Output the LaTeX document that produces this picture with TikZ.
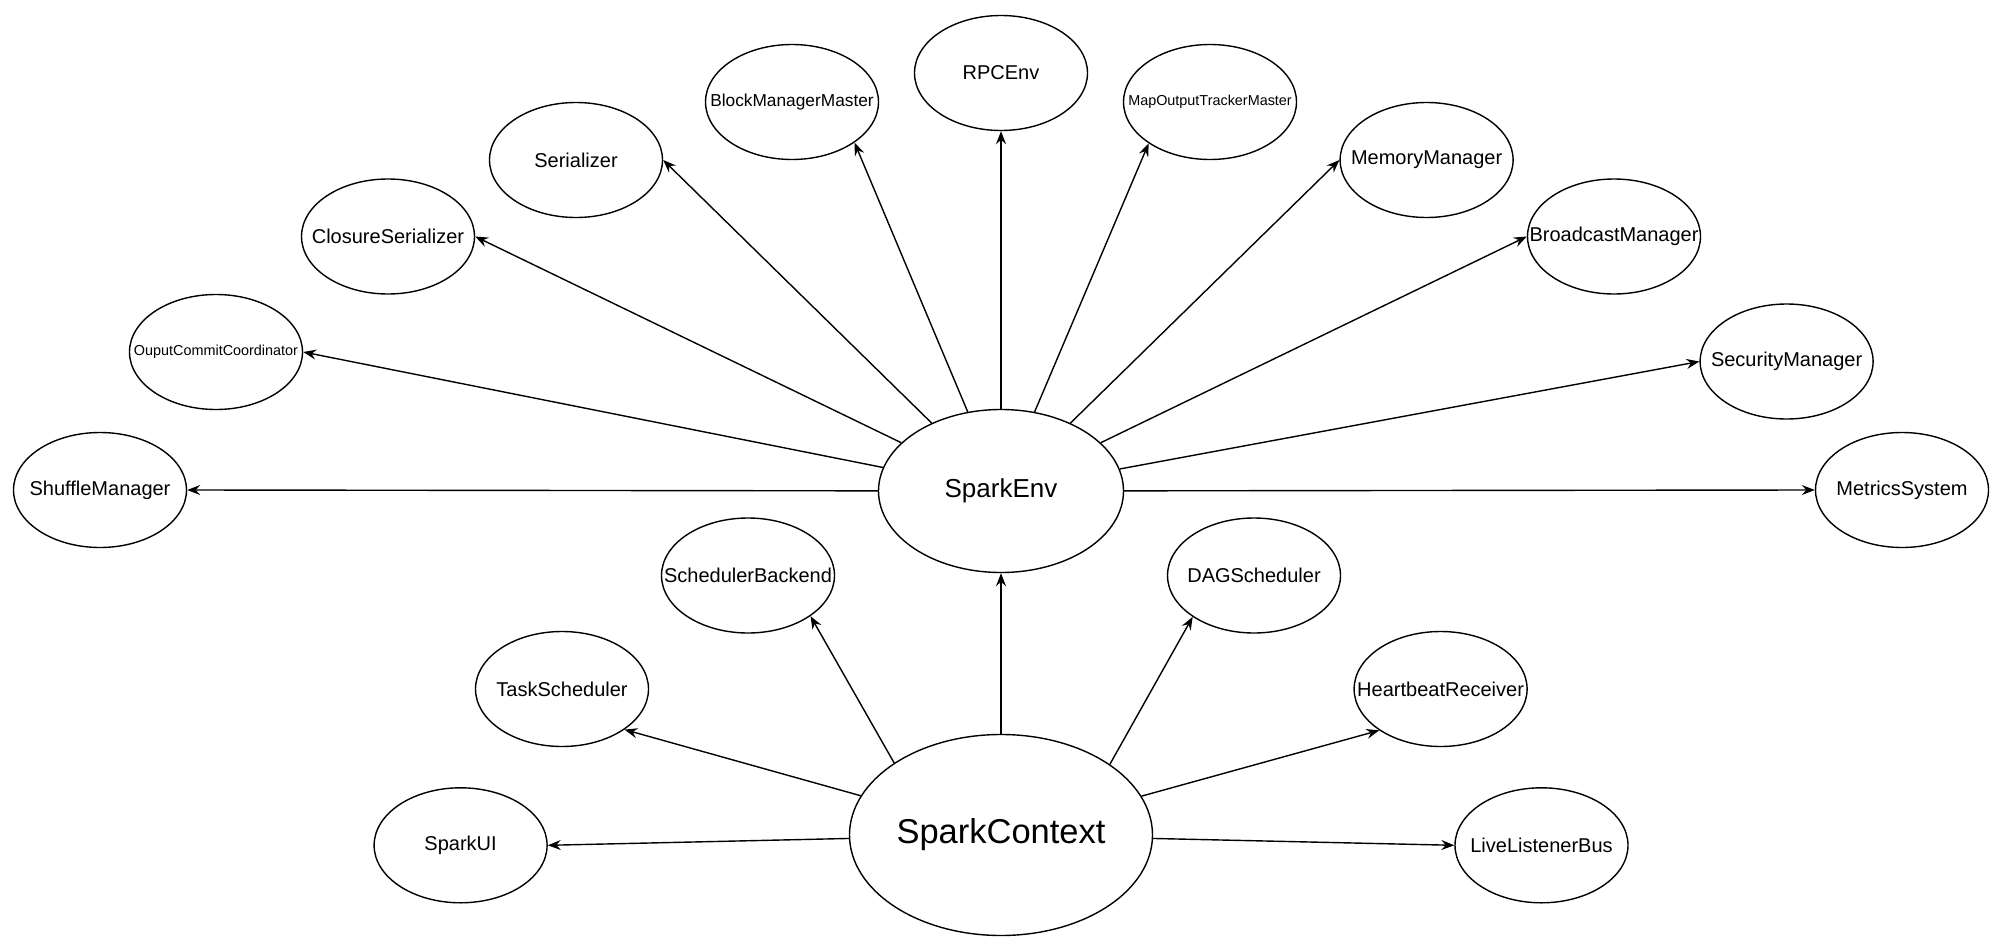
\documentclass[tikz,border=0pt]{standalone}
\usepackage{fontspec}
\setmainfont{Liberation Sans}
\usetikzlibrary{arrows.meta,shapes.geometric}
\newcommand\zw[1]{\makebox[0pt][c]{#1}}
\begin{document}
\begin{tikzpicture}[x=1pt,y=-1pt,
  ell/.style={ellipse, draw, line width=1.4pt, inner sep=0pt,
    minimum width=173pt, minimum height=115pt,
    font=\fontsize{20}{24}\selectfont},
  arr/.style={line width=1.4pt, -{Stealth[length=13pt,width=10pt,inset=4.5pt]}}]
\fill[white] (0,0) rectangle (2000,950);
\useasboundingbox (0,0) rectangle (2000,950);
% central nodes
\node[ell, minimum width=245pt, minimum height=163pt, font=\fontsize{26}{30}\selectfont] (SE) at (1001,491) {\zw{SparkEnv}};
\node[ell, minimum width=303pt, minimum height=201pt, font=\fontsize{34.5}{40}\selectfont] (SC) at (1001,835) {\zw{SparkContext}};
% SparkEnv children
\node[ell] (SM) at (100,490) {\zw{ShuffleManager}};
\node[ell, font=\fontsize{14.4}{17}\selectfont] (OCC) at (216,352) {\zw{OuputCommitCoordinator}};
\node[ell] (CS) at (388,236.5) {\zw{ClosureSerializer}};
\node[ell] (SER) at (576,160) {\zw{Serializer}};
\node[ell, font=\fontsize{17.3}{20}\selectfont] (BMM) at (792,102) {\zw{BlockManagerMaster}};
\node[ell] (RPC) at (1001,73) {\zw{RPCEnv}};
\node[ell, font=\fontsize{14.4}{17}\selectfont] (MOTM) at (1210,102) {\zw{MapOutputTrackerMaster}};
\node[ell] (MM) at (1426.6,160) {\zw{MemoryManager}};
\node[ell] (BM) at (1614,236.5) {\zw{BroadcastManager}};
\node[ell] (SECM) at (1786.6,361.5) {\zw{SecurityManager}};
\node[ell] (MS) at (1902,490) {\zw{MetricsSystem}};
% SparkContext children
\node[ell] (SB) at (748,575.5) {\zw{SchedulerBackend}};
\node[ell] (DAG) at (1254,575.5) {\zw{DAGScheduler}};
\node[ell] (TS) at (562,689) {\zw{TaskScheduler}};
\node[ell] (HB) at (1440.6,689) {\zw{HeartbeatReceiver}};
\node[ell] (UI) at (460.6,845.3) {\zw{SparkUI}};
\node[ell] (LLB) at (1541.5,845.3) {\zw{LiveListenerBus}};
% connectors from SparkEnv
\draw[arr] (SE) -- (SM.east);
\draw[arr] (SE) -- (OCC.east);
\draw[arr] (SE) -- (CS.east);
\draw[arr] (SE) -- (SER.east);
\draw[arr] (SE) -- (BMM.-33.6);
\draw[arr] (SE) -- (RPC.south);
\draw[arr] (SE) -- (MOTM.-146.4);
\draw[arr] (SE) -- (MM.west);
\draw[arr] (SE) -- (BM.west);
\draw[arr] (SE) -- (SECM.west);
\draw[arr] (SE) -- (MS.west);
% connectors from SparkContext
\draw[arr] (SC.north) -- (SE.south);
\draw[arr] (SC) -- (UI.east);
\draw[arr] (SC) -- (TS.-33.6);
\draw[arr] (SC.146.4) -- (SB.-33.6);
\draw[arr] (SC.33.6) -- (DAG.-146.4);
\draw[arr] (SC) -- (HB.-146.4);
\draw[arr] (SC) -- (LLB.west);
\end{tikzpicture}
\end{document}
